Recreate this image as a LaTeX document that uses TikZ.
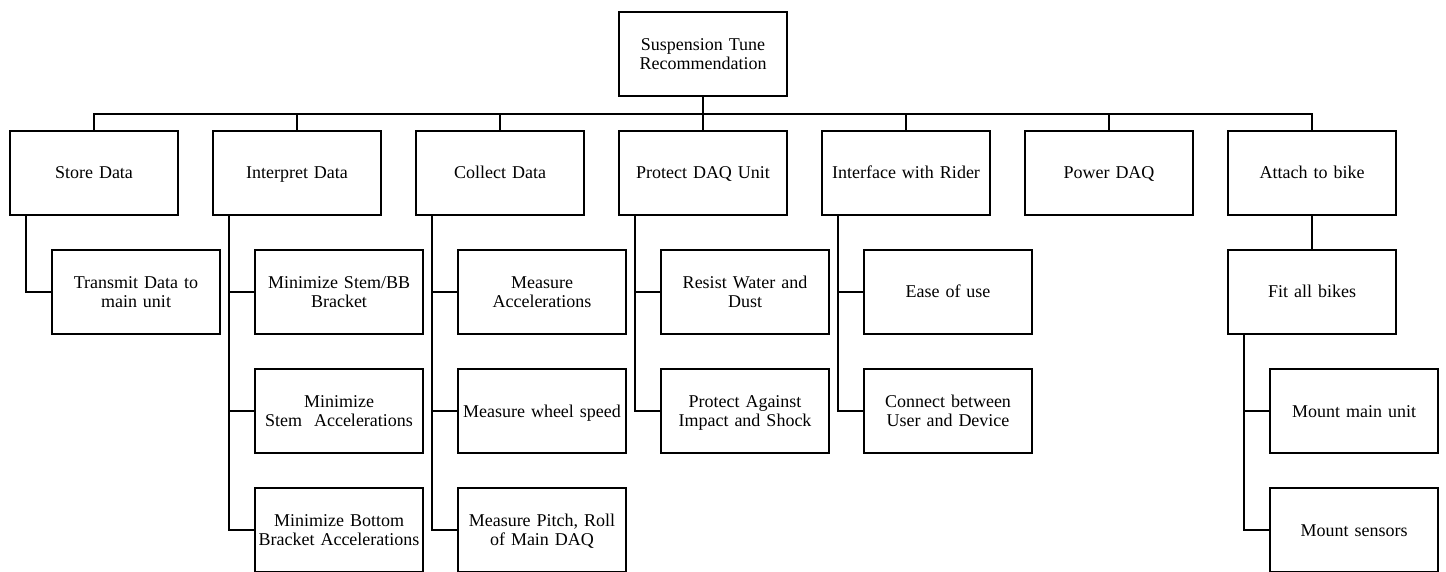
\documentclass[tikz,border=0pt]{standalone}
\usepackage{fontspec}
\setmainfont{Liberation Serif}
\usepackage{tikz}
\usetikzlibrary{calc}
\hyphenpenalty=10000
\newcommand{\topstrut}{\rule{0pt}{16pt}}
\newcommand{\botstrut}{\rule[-4pt]{0pt}{4pt}}
\tikzset{goalbox/.style={draw, line width=2.2pt, rectangle, minimum width=168pt, minimum height=84pt, inner sep=1pt, text width=166pt, align=center, font=\fontsize{18}{19}\selectfont, execute at begin node=\topstrut, execute at end node=\botstrut}}
\newcommand{\goal}[4]{\node[goalbox] (#1) at ( #2 , #3 ) {#4};}
\newcommand{\branch}[2]{\draw[line width=2.2pt] ($(#1.south west)+(17,0)$) |- (#2.west);}

\begin{document}
\begin{tikzpicture}[x=1pt, y=-1pt]
            \useasboundingbox (0,0) rectangle (1446,572);
            % top
            \goal{tune}{703}{54}{Suspension Tune\\Recommendation}
            % level 1
            \goal{store}{94}{173}{Store Data}
            \goal{interpret}{297}{173}{Interpret Data}
            \goal{collect}{500}{173}{Collect Data}
            \goal{protect}{703}{173}{Protect DAQ Unit}
            \goal{interface}{906}{173}{Interface with Rider}
            \goal{power}{1109}{173}{Power DAQ}
            \goal{attach}{1312}{173}{Attach to bike}
            % level 2
            \goal{transmit}{136}{292}{Transmit Data to\\main unit}
            \goal{minbb}{339}{292}{Minimize Stem/BB\\Bracket}
            \goal{minstem}{339}{411}{Minimize\\Stem~ Accelerations}
            \goal{minbottom}{339}{530}{Minimize Bottom\\Bracket Accelerations}
            \goal{measacc}{542}{292}{Measure\\Accelerations}
            \goal{measwheel}{542}{411}{Measure wheel speed}
            \goal{measpitch}{542}{530}{Measure Pitch, Roll\\of Main DAQ}
            \goal{resist}{745}{292}{Resist Water and\\Dust}
            \goal{impact}{745}{411}{Protect Against\\Impact and Shock}
            \goal{ease}{948}{292}{Ease of use}
            \goal{connect}{948}{411}{Connect between\\User and Device}
            \goal{fit}{1312}{292}{Fit all bikes}
            % level 3
            \goal{mountmain}{1354}{411}{Mount main unit}
            \goal{mountsens}{1354}{530}{Mount sensors}

            % bus
            \foreach \n in {store,interpret,collect,protect,interface,power,attach}
                \draw[line width=2.2pt] (tune.south) -- ++(0,17) -| (\n.north);

            % branches
            \branch{store}{transmit}
            \branch{interpret}{minbb}
            \branch{interpret}{minstem}
            \branch{interpret}{minbottom}
            \branch{collect}{measacc}
            \branch{collect}{measwheel}
            \branch{collect}{measpitch}
            \branch{protect}{resist}
            \branch{protect}{impact}
            \branch{interface}{ease}
            \branch{interface}{connect}
            \draw[line width=2.2pt] (attach.south) -- (fit.north);
            \branch{fit}{mountmain}
            \branch{fit}{mountsens}
        \end{tikzpicture}
\end{document}
